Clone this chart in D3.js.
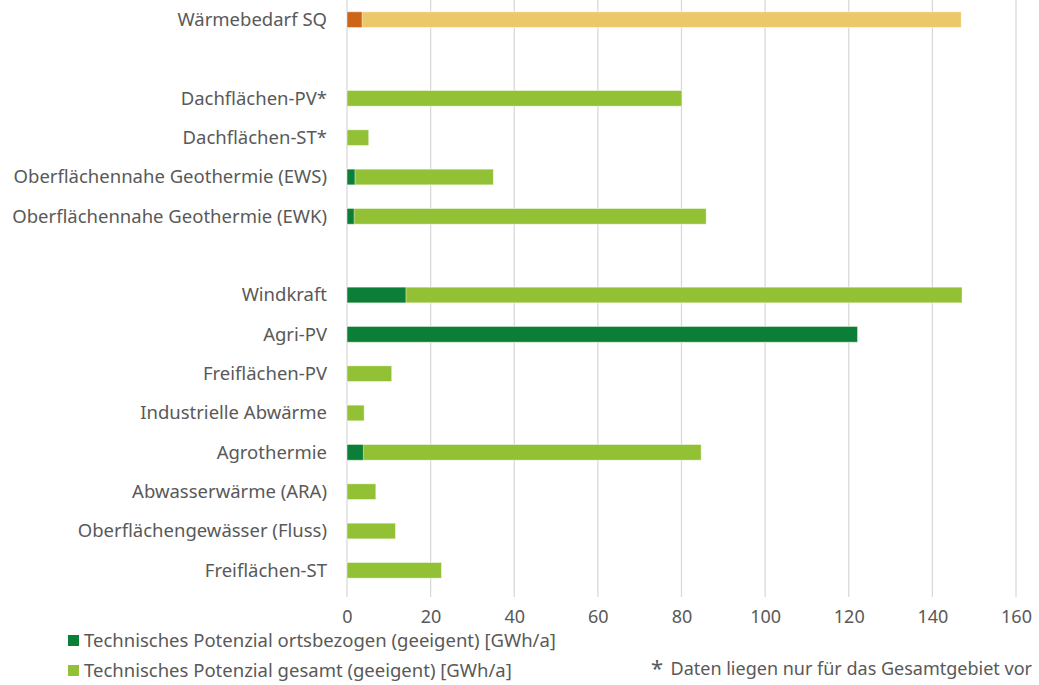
<!DOCTYPE html>
<html>
<head>
<meta charset="utf-8">
<script src="https://cdn.jsdelivr.net/npm/d3@7"></script>
<style>
  body { margin: 0; background: #fff; }
  svg text { font-family: "Noto Sans", sans-serif; fill: #595959; }
</style>
</head>
<body>
<svg id="chart" width="1039" height="685"></svg>
<script>
// Rows top to bottom, "" marks an empty spacer row
const categories = [
    "Wärmebedarf SQ", "",
    "Dachflächen-PV*", "Dachflächen-ST*",
    "Oberflächennahe Geothermie (EWS)", "Oberflächennahe Geothermie (EWK)", "",
    "Windkraft", "Agri-PV", "Freiflächen-PV", "Industrielle Abwärme", "Agrothermie",
    "Abwasserwärme (ARA)", "Oberflächengewässer (Fluss)", "Freiflächen-ST"
];
// GWh/a, null for spacer rows
const ortsbezogen = [3.6, null, 0, 0, 1.9, 1.7, null, 14.1, 122.1, 0, 0, 3.9, 0, 0, 0];
const gesamt = [146.9, null, 80.1, 5.2, 35.0, 85.9, null, 147.1, 122.1, 10.7, 4.1, 84.7, 6.9, 11.6, 22.6];
const xTicks = [0, 20, 40, 60, 80, 100, 120, 140, 160];
const legendLabels = [
    "Technisches Potenzial ortsbezogen (geeigent) [GWh/a]",
    "Technisches Potenzial gesamt (geeigent) [GWh/a]"
];
const footnote = "Daten liegen nur für das Gesamtgebiet vor";

const colors = { dark: "#0b7f37", light: "#92c135", heatDark: "#cc6518", heatLight: "#ebc96a" };

const svg = d3.select("#chart");
const plotLeft = 347, plotRight = 1016, plotTop = 0, plotBottom = 590;
const fontSize = "18.5px";

const rows = categories.map((c, i) => ({
    i, label: c, local: ortsbezogen[i], total: gesamt[i], heat: i === 0
}));

const x = d3.scaleLinear().domain([0, 160]).range([plotLeft, plotRight]);
const y = d3.scaleBand().domain(rows.map(d => d.i)).range([plotTop, plotBottom]).paddingInner(0.6).paddingOuter(0.3);

// Gridlines
svg.append("g")
    .selectAll("line")
    .data(xTicks)
    .enter().append("line")
    .attr("x1", d => x(d)).attr("x2", d => x(d))
    .attr("y1", 0).attr("y2", 597)
    .attr("stroke", "#d9d9d9")
    .attr("stroke-width", 1.3);

// X axis labels
const xAxis = svg.append("g")
    .attr("transform", `translate(0, 617)`)
    .call(d3.axisBottom(x).tickValues(xTicks).tickSize(0).tickPadding(0));
xAxis.select(".domain").remove();
xAxis.selectAll("text")
    .attr("y", 0)
    .attr("dy", "0.35em")
    .style("font-size", "18px")
    .style("font-family", '"Noto Sans", sans-serif')
    .attr("fill", "#595959");

// Category labels
svg.append("g")
    .selectAll("text")
    .data(rows.filter(d => d.label))
    .enter().append("text")
    .attr("x", 327)
    .attr("y", d => y(d.i) + y.bandwidth() / 2)
    .attr("dy", "0.35em")
    .attr("text-anchor", "end")
    .style("font-size", fontSize)
    .text(d => d.label);

const barRows = rows.filter(d => d.total != null);

// Total bars (background)
svg.append("g")
    .selectAll("rect")
    .data(barRows)
    .enter().append("rect")
    .attr("x", x(0))
    .attr("y", d => y(d.i))
    .attr("width", d => x(d.total) - x(0))
    .attr("height", y.bandwidth())
    .attr("fill", d => d.heat ? colors.heatLight : colors.light)
    .attr("stroke", "#fff").attr("stroke-opacity", 0.6).attr("stroke-width", 0.8);

// Local share bars (front)
svg.append("g")
    .selectAll("rect")
    .data(barRows.filter(d => d.local > 0))
    .enter().append("rect")
    .attr("x", x(0))
    .attr("y", d => y(d.i))
    .attr("width", d => x(d.local) - x(0))
    .attr("height", y.bandwidth())
    .attr("fill", d => d.heat ? colors.heatDark : colors.dark)
    .attr("stroke", "#fff").attr("stroke-opacity", 0.6).attr("stroke-width", 0.8);

// Legend
const legend = svg.append("g");
[colors.dark, colors.light].forEach((c, i) => {
    const g = legend.append("g").attr("transform", `translate(68, ${641 + i * 30})`);
    g.append("rect").attr("x", 0).attr("y", -6).attr("width", 11).attr("height", 11).attr("fill", c);
    g.append("text").attr("x", 16).attr("dy", "0.35em").style("font-size", fontSize).text(legendLabels[i]);
});

// Footnote
svg.append("text")
    .attr("x", 1032).attr("y", 669)
    .attr("dy", "0.35em")
    .attr("text-anchor", "end")
    .style("font-size", "18px")
    .text(footnote);
svg.append("text")
    .attr("x", 657).attr("y", 668)
    .attr("dy", "0.35em")
    .attr("text-anchor", "middle")
    .style("font-size", "22px")
    .text("*");
</script>
</body>
</html>
